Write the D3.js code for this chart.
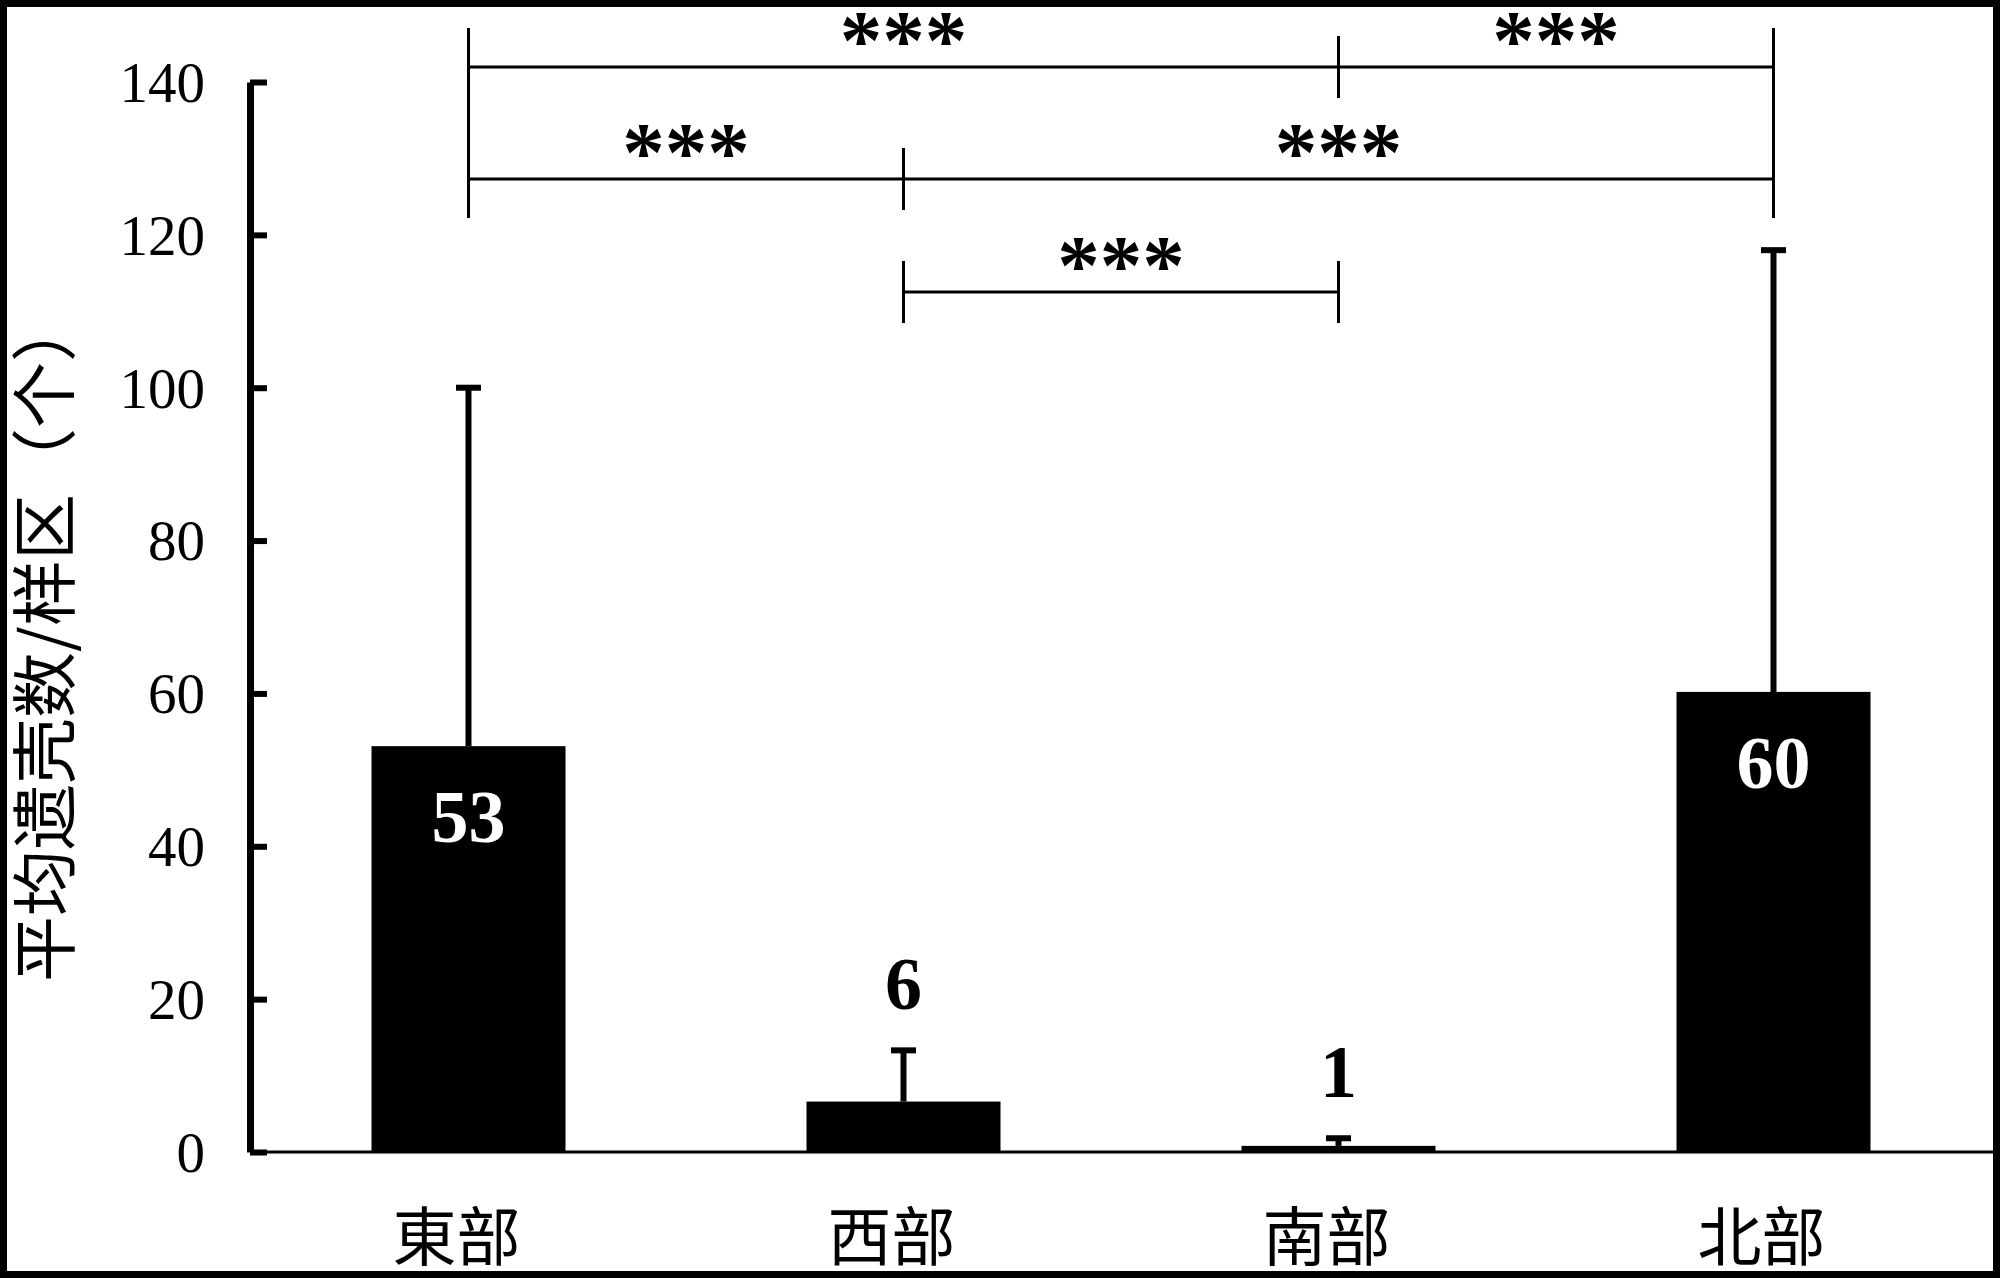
<!DOCTYPE html>
<html>
<head>
<meta charset="utf-8">
<script src="https://cdn.jsdelivr.net/npm/d3@7"></script>
<style>
  html, body { margin: 0; padding: 0; background: #fff; }
  svg { display: block; }
</style>
</head>
<body>
<svg id="chart" width="2000" height="1278"></svg>
<script>
// ---- data ----
const categories = ["東部", "西部", "南部", "北部"];
const means = [53.1, 6.6, 0.8, 60.2];
const sds = [46.9, 6.7, 1.0, 57.8];
const valueLabels = ["53", "6", "1", "60"];
const yTicks = [0, 20, 40, 60, 80, 100, 120, 140];
const yTitle = "平均遗壳数/样区（个）";
// significance comparisons: [left, right, row, label]
const sigPairs = [
  ["東部", "南部", 0, "***"],
  ["南部", "北部", 0, "***"],
  ["東部", "西部", 1, "***"],
  ["西部", "北部", 1, "***"],
  ["西部", "南部", 2, "***"]
];

// ---- layout ----
const svg = d3.select("#chart");
const W = 2000, H = 1278;
const axisX = 250, zeroY = 1152, topY = 82;
const serif = "'Liberation Serif', 'Times New Roman', serif";
const cjk = "'Noto Sans CJK SC', 'Noto Sans CJK JP', sans-serif";

svg.append("rect").attr("x", 0).attr("y", 0).attr("width", W).attr("height", H).attr("fill", "#fff");

const y = d3.scaleLinear().domain([0, 140]).range([zeroY, topY]);
const x = d3.scaleBand().domain(categories).range([axisX + 1, 1991])
  .paddingInner(0.554).paddingOuter(0.277);
const cx = c => x(c) + x.bandwidth() / 2;

// x axis
const xAxis = svg.append("g").attr("transform", `translate(0,${zeroY})`)
  .call(d3.axisBottom(x).tickSize(0).tickSizeOuter(0).tickPadding(63));
xAxis.select(".domain").remove();
xAxis.append("line").attr("x1", axisX).attr("x2", 1994).attr("y1", 0).attr("y2", 0)
  .attr("stroke", "#000").attr("stroke-width", 3);
xAxis.selectAll(".tick text")
  .attr("font-family", cjk).attr("font-size", 64).attr("fill", "#000")
  .attr("dx", -12);

// bars
svg.append("g").selectAll("rect").data(categories).join("rect")
  .attr("x", c => x(c))
  .attr("width", x.bandwidth())
  .attr("y", (c, i) => y(means[i]))
  .attr("height", (c, i) => zeroY - y(means[i]))
  .attr("fill", "#000");

// error bars
const eb = svg.append("g").attr("stroke", "#000").attr("stroke-width", 6);
eb.selectAll("line.v").data(categories).join("line").attr("class", "v")
  .attr("x1", c => cx(c)).attr("x2", c => cx(c))
  .attr("y1", (c, i) => y(means[i]))
  .attr("y2", (c, i) => y(means[i] + sds[i]));
eb.selectAll("line.cap").data(categories).join("line").attr("class", "cap")
  .attr("x1", c => cx(c) - 12.5).attr("x2", c => cx(c) + 12.5)
  .attr("y1", (c, i) => y(means[i] + sds[i]))
  .attr("y2", (c, i) => y(means[i] + sds[i]));

// y axis
const yAxis = svg.append("g").attr("transform", `translate(${axisX},0)`)
  .call(d3.axisLeft(y).tickValues(yTicks).tickSize(-17).tickSizeOuter(0).tickPadding(45));
yAxis.select(".domain").attr("stroke", "#000").attr("stroke-width", 7);
yAxis.selectAll(".tick line").attr("stroke", "#000").attr("stroke-width", 6);
yAxis.selectAll(".tick text")
  .attr("font-family", serif).attr("font-size", 57).attr("fill", "#000")
  .attr("dy", "0.34em");

// y title
svg.append("text")
  .attr("transform", `translate(40,639) rotate(-90)`)
  .attr("text-anchor", "middle").attr("dominant-baseline", "central")
  .attr("font-family", cjk).attr("font-size", 66).attr("fill", "#000")
  .text(yTitle);

// value labels
svg.append("g").selectAll("text").data(categories).join("text")
  .attr("x", c => cx(c))
  .attr("y", (c, i) => means[i] > 20 ? y(means[i]) + 96 : y(means[i] + sds[i]) - 41)
  .attr("text-anchor", "middle")
  .attr("font-family", serif).attr("font-weight", "bold").attr("font-size", 74)
  .attr("fill", (c, i) => means[i] > 20 ? "#fff" : "#000")
  .text((c, i) => valueLabels[i]);

// significance brackets
const rowY = [67, 179, 292];
const sig = svg.append("g").attr("stroke", "#000").attr("stroke-width", 3);
const rows = d3.groups(sigPairs, d => d[2]);
rows.forEach(([r, pairs]) => {
  const xs = pairs.flatMap(p => [cx(p[0]), cx(p[1])]);
  sig.append("line").attr("x1", d3.min(xs)).attr("x2", d3.max(xs))
    .attr("y1", rowY[r]).attr("y2", rowY[r]);
});
// vertical ticks at bracket ends; outermost categories join their rows
categories.forEach((c, ci) => {
  const rs = Array.from(new Set(sigPairs.filter(p => p[0] === c || p[1] === c).map(p => rowY[p[2]])));
  if (!rs.length) return;
  const outer = ci === 0 || ci === categories.length - 1;
  if (outer && rs.length > 1) {
    sig.append("line").attr("x1", cx(c)).attr("x2", cx(c))
      .attr("y1", d3.min(rs) - 39).attr("y2", d3.max(rs) + 39);
  } else {
    rs.forEach(v => {
      sig.append("line").attr("x1", cx(c)).attr("x2", cx(c)).attr("y1", v - 31).attr("y2", v + 31);
    });
  }
});
// stars
svg.append("g").selectAll("text").data(sigPairs).join("text")
  .attr("x", d => (cx(d[0]) + cx(d[1])) / 2)
  .attr("y", d => rowY[d[2]] + 2)
  .attr("text-anchor", "middle")
  .attr("font-family", serif).attr("font-weight", "bold").attr("font-size", 85)
  .attr("fill", "#000")
  .text(d => d[3]);

// outer frame
svg.append("rect").attr("x", 3.5).attr("y", 3.5).attr("width", W - 7).attr("height", H - 7)
  .attr("fill", "none").attr("stroke", "#000").attr("stroke-width", 7);
</script>
</body>
</html>
